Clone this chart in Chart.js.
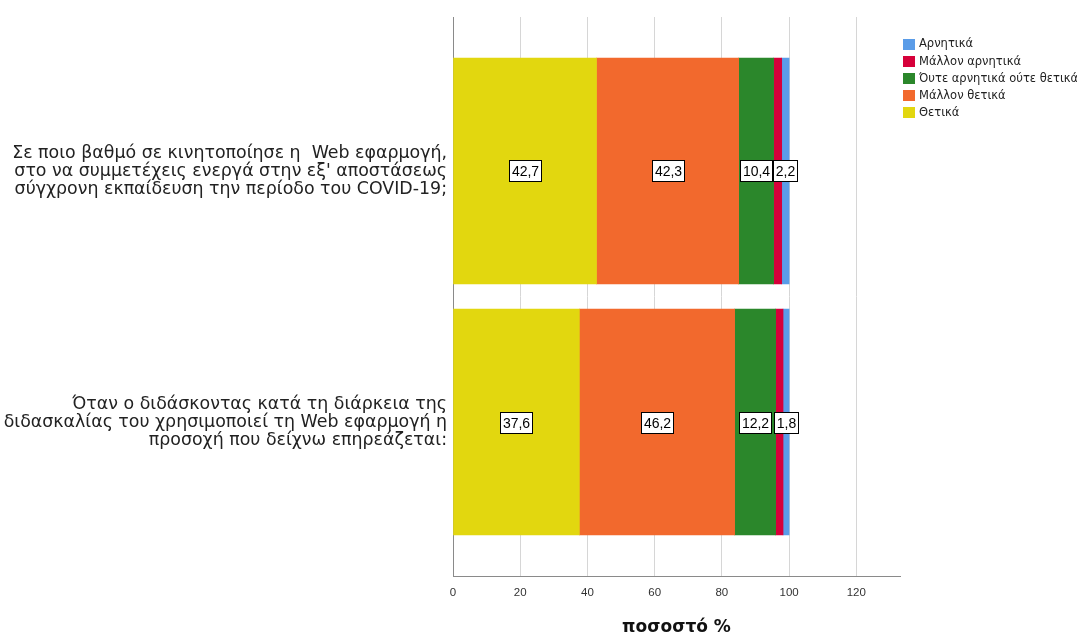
<!DOCTYPE html>
<html>
<head>
<meta charset="utf-8">
<script src="https://cdn.jsdelivr.net/npm/chart.js@4/dist/chart.umd.min.js"></script>
<style>
  html, body { margin: 0; padding: 0; background: #ffffff; }
  #wrap { width: 1077px; height: 637px; position: relative; }
</style>
</head>
<body>
<div id="wrap"><canvas id="chart" width="1077" height="637"></canvas></div>
<script>
// Questions (one per bar), split into the lines shown beside each bar
const categories = [
  ["Σε ποιο βαθμό σε κινητοποίησε η  Web εφαρμογή,",
   "στο να συμμετέχεις ενεργά στην εξ' αποστάσεως",
   "σύγχρονη εκπαίδευση την περίοδο του COVID-19;"],
  ["Όταν ο διδάσκοντας κατά τη διάρκεια της",
   "διδασκαλίας του χρησιμοποιεί τη Web εφαρμογή η",
   "προσοχή που δείχνω επηρεάζεται:"]
];

// Percentages per answer, one value per question
const thetika         = [42.7, 37.6];
const mallonThetika   = [42.3, 46.2];
const oute            = [10.4, 12.2];
const mallonArnitika  = [2.4, 2.2];
const arnitika        = [2.2, 1.8];

const xTicks = [0, 20, 40, 60, 80, 100, 120];
const xMax = 133;
const axisTitle = "ποσοστό %";

const series = [
  { label: "Θετικά",                     values: thetika,        color: "#e2d70f", showValues: true },
  { label: "Μάλλον θετικά",              values: mallonThetika,  color: "#f2692d", showValues: true },
  { label: "Όυτε αρνητικά ούτε θετικά",  values: oute,           color: "#2b872b", showValues: true },
  { label: "Μάλλον αρνητικά",            values: mallonArnitika, color: "#d6003a", showValues: false },
  { label: "Αρνητικά",                   values: arnitika,       color: "#5a9ce8", showValues: true }
];

const NUM_FONT = "'Liberation Sans', Arial, sans-serif";
const TEXT_FONT = "'DejaVu Sans', Verdana, sans-serif";

const datasets = series.map(s => ({
  label: s.label,
  data: s.values.map((v, i) => ({ x: v, y: i + 1 })),
  backgroundColor: s.color,
  borderWidth: 0,
  barThickness: 226,
  showValues: s.showValues
}));

// White boxed value labels centred in each segment
const valueLabels = {
  id: 'valueLabels',
  afterDatasetsDraw(chart) {
    const ctx = chart.ctx;
    ctx.save();
    ctx.font = "14px " + NUM_FONT;
    ctx.textAlign = 'center';
    ctx.textBaseline = 'middle';
    chart.data.datasets.forEach((ds, i) => {
      if (!ds.showValues) return;
      const meta = chart.getDatasetMeta(i);
      meta.data.forEach((bar, j) => {
        const txt = ds.data[j].x.toFixed(1).replace('.', ',');
        const cx = (bar.x + bar.base) / 2;
        const cy = bar.y;
        const w = Math.round(ctx.measureText(txt).width) + 5;
        const h = 21;
        const left = Math.round(cx - w / 2) + 0.5;
        const top = Math.round(cy - h / 2) + 0.5;
        ctx.fillStyle = '#ffffff';
        ctx.fillRect(left, top, w, h);
        ctx.strokeStyle = '#000000';
        ctx.lineWidth = 1;
        ctx.strokeRect(left, top, w, h);
        ctx.fillStyle = '#000000';
        ctx.fillText(txt, left + w / 2, top + h / 2 + 1);
      });
    });
    ctx.restore();
  }
};

// Legend in the top-right corner, listed from the last series to the first
const sideLegend = {
  id: 'sideLegend',
  afterDraw(chart) {
    const ctx = chart.ctx;
    ctx.save();
    ctx.font = "11.5px " + TEXT_FONT;
    ctx.textAlign = 'left';
    ctx.textBaseline = 'middle';
    const x0 = 903, y0 = 44, step = 17.2;
    const items = chart.data.datasets.slice().reverse();
    items.forEach((ds, k) => {
      const cy = y0 + k * step;
      ctx.fillStyle = ds.backgroundColor;
      ctx.fillRect(x0, Math.round(cy - 5.5), 12, 11);
      ctx.fillStyle = '#222222';
      ctx.fillText(ds.label, x0 + 16, cy + 0.5);
    });
    ctx.restore();
  }
};

new Chart(document.getElementById('chart'), {
  type: 'bar',
  data: { datasets },
  options: {
    indexAxis: 'y',
    responsive: false,
    animation: false,
    layout: { padding: { left: 0, right: 177, top: 17, bottom: 0 } },
    plugins: {
      legend: { display: false },
      tooltip: { enabled: false }
    },
    scales: {
      x: {
        type: 'linear',
        stacked: true,
        min: 0,
        max: xMax,
        bounds: 'data',
        afterBuildTicks(scale) {
          scale.ticks = xTicks.map(v => ({ value: v }));
        },
        afterFit(scale) { scale.height = 61; },
        grid: { color: '#d6d6d6', lineWidth: 1, drawTicks: false },
        border: { display: true, color: '#8a8a8a', width: 1 },
        ticks: {
          padding: 10,
          color: '#333333',
          font: { family: NUM_FONT, size: 11.5 },
          maxRotation: 0
        },
        title: {
          display: true,
          text: axisTitle,
          color: '#111111',
          font: { family: TEXT_FONT, size: 17, weight: 'bold' },
          padding: { top: 0, bottom: -1 }
        }
      },
      y: {
        type: 'linear',
        stacked: true,
        reverse: true,
        offset: false,
        min: 0.3865,
        max: 2.6135,
        bounds: 'data',
        afterBuildTicks(scale) {
          scale.ticks = categories.map((c, i) => ({ value: i + 1 }));
        },
        afterFit(scale) {
          scale.width = 453;
          scale.paddingTop = 0;
          scale.paddingBottom = 0;
        },
        grid: { display: false, drawTicks: false, offset: false },
        border: { display: true, color: '#8a8a8a', width: 1 },
        ticks: {
          padding: 6,
          color: '#222222',
          font: { family: TEXT_FONT, size: 17.4, lineHeight: '18px' },
          callback(value) { return categories[Math.round(value) - 1] || ''; }
        }
      }
    }
  },
  plugins: [valueLabels, sideLegend]
});
</script>
</body>
</html>
